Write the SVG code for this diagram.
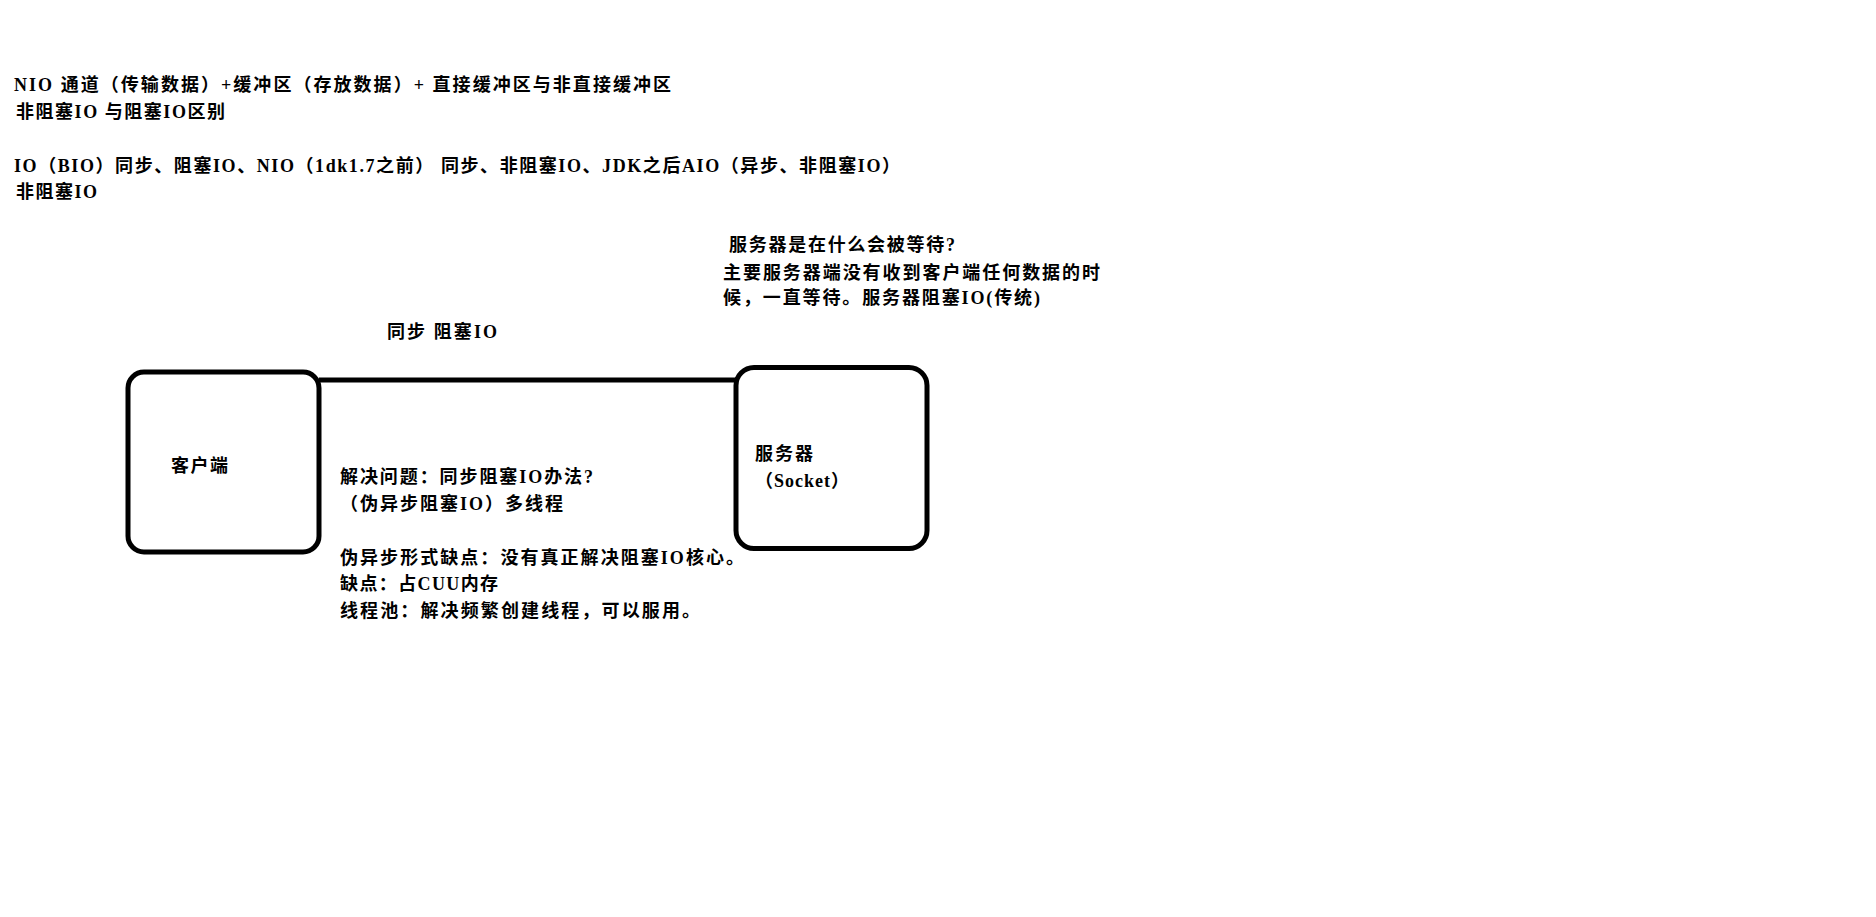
<svg xmlns="http://www.w3.org/2000/svg" width="1876" height="917" viewBox="0 0 1876 917">
<style>
.t{font-family:"Liberation Serif","Noto Sans CJK SC",serif;font-size:18px;font-weight:bold;fill:#000}
.box{fill:#fff;stroke:#000;stroke-width:5}
.edge{fill:none;stroke:#000;stroke-width:5}
</style>
<rect width="1876" height="917" fill="#fff"/>
<g id="notes-top">
<text class="t" x="14" y="91" textLength="657" lengthAdjust="spacing">NIO 通道（传输数据）+缓冲区（存放数据）+ 直接缓冲区与非直接缓冲区</text>
<text class="t" x="16" y="118" textLength="209" lengthAdjust="spacing">非阻塞IO 与阻塞IO区别</text>
<text class="t" x="14" y="172" textLength="886" lengthAdjust="spacing">IO（BIO）同步、阻塞IO、NIO（1dk1.7之前） 同步、非阻塞IO、JDK之后AIO（异步、非阻塞IO）</text>
<text class="t" x="16" y="198" textLength="81" lengthAdjust="spacing">非阻塞IO</text>
</g>
<g id="notes-server">
<text class="t" x="729" y="251" textLength="226" lengthAdjust="spacing">服务器是在什么会被等待?</text>
<text class="t" x="723" y="279" textLength="377" lengthAdjust="spacing">主要服务器端没有收到客户端任何数据的时</text>
<text class="t" x="723" y="304" textLength="317" lengthAdjust="spacing">候，一直等待。服务器阻塞IO(传统)</text>
</g>
<g id="connectors">
<line class="edge" x1="319" y1="380" x2="736" y2="380"/>
</g>
<g id="edge-label">
<text class="t" x="387" y="338" textLength="110" lengthAdjust="spacing">同步 阻塞IO</text>
</g>
<g id="node-client">
<rect class="box" x="128" y="372" width="191" height="180" rx="16"/>
<text class="t" x="171" y="472" textLength="57" lengthAdjust="spacing">客户端</text>
</g>
<g id="node-server">
<rect class="box" x="736" y="367.5" width="191" height="181" rx="18"/>
<text class="t" x="755" y="460" textLength="58" lengthAdjust="spacing">服务器</text>
<text class="t" x="755" y="487" textLength="94" lengthAdjust="spacing">（Socket）</text>
</g>
<g id="notes-middle">
<text class="t" x="340" y="483" textLength="253" lengthAdjust="spacing">解决问题：同步阻塞IO办法?</text>
<text class="t" x="340" y="510" textLength="223" lengthAdjust="spacing">（伪异步阻塞IO）多线程</text>
<text class="t" x="340" y="564" textLength="404" lengthAdjust="spacing">伪异步形式缺点：没有真正解决阻塞IO核心。</text>
<text class="t" x="340" y="590" textLength="158" lengthAdjust="spacing">缺点：占CUU内存</text>
<text class="t" x="340" y="617" textLength="360" lengthAdjust="spacing">线程池：解决频繁创建线程，可以服用。</text>
</g>
</svg>
